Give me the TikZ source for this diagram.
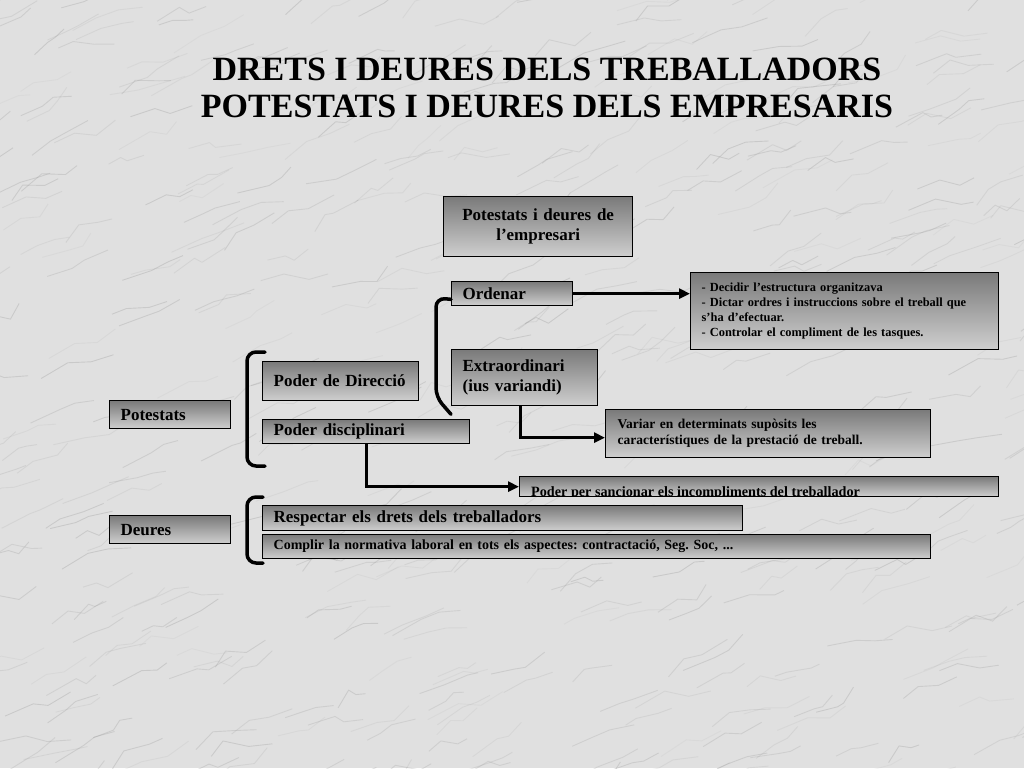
\documentclass[tikz,border=0pt]{standalone}
\usepackage{fontspec}
\setmainfont{Liberation Serif}
\frenchspacing
\usetikzlibrary{arrows.meta,calc}
\definecolor{marble}{HTML}{E0E0E0}
\definecolor{vein}{HTML}{959595}
\definecolor{boxtop}{HTML}{7A7A7A}
\definecolor{boxbot}{HTML}{CFCFCF}
\begin{document}
\begin{tikzpicture}[x=1pt,y=-1pt,
  box/.style={draw=black, line width=1.3pt, top color=boxtop, bottom color=boxbot,
    anchor=north west, inner ysep=0pt, align=left, text=black},
  fbig/.style={font=\fontsize{17}{20}\selectfont\bfseries},
  fmid/.style={font=\fontsize{13.5}{16}\selectfont\bfseries},
  fsmall/.style={font=\fontsize{12.4}{15}\selectfont\bfseries},
  fcom/.style={font=\fontsize{14}{16}\selectfont\bfseries},
  fsan/.style={font=\fontsize{14.2}{16}\selectfont\bfseries},
  conn/.style={line width=3pt, -{Triangle[length=11pt,width=10pt]}},
  brace/.style={line width=3.5pt, rounded corners=9pt, line cap=round},
  titlef/.style={font=\fontsize{34}{38}\selectfont\bfseries}]
\useasboundingbox (0,0) rectangle (1024,768);
\fill[marble] (0,0) rectangle (1024,768);
% marble texture
\pgfmathsetseed{42}
\begin{scope}
\clip (0,0) rectangle (1024,768);
\foreach \i in {1,...,520}{
  \pgfmathsetmacro\xa{rnd*1100-40}
  \pgfmathsetmacro\ya{rnd*820-20}
  \pgfmathsetmacro\dxa{10+rnd*22}
  \pgfmathsetmacro\dya{-4-rnd*14}
  \pgfmathsetmacro\dxb{6+rnd*20}
  \pgfmathsetmacro\dyb{rnd*16-10}
  \pgfmathsetmacro\dxc{8+rnd*18}
  \pgfmathsetmacro\dyc{-rnd*16}
  \pgfmathsetmacro\op{0.08+rnd*0.22}
  \draw[vein, opacity=\op, line width=0.9pt, line join=round]
    (\xa,\ya) -- ++(\dxa,\dya) -- ++(\dxb,\dyb) -- ++(\dxc,\dyc);
}
\end{scope}
% title
\node[titlef, anchor=base] (t1) at (547,81) {DRETS I DEURES DELS TREBALLADORS};
\node[titlef, anchor=base] (t2) at (547,117) {POTESTATS I DEURES DELS EMPRESARIS};
% boxes
\node[box, fbig, align=center, text width=189pt, inner xsep=0pt, minimum height=60pt] (top) at (443,196) {Potestats i deures de\\l’empresari};
\node[box, fbig, text width=99pt, inner xsep=11pt, minimum height=24pt] (ord) at (451,281) {Ordenar};
\node[box, fbig, text width=124pt, inner xsep=11pt, minimum height=56pt] (ext) at (451,349) {Extraordinari\\(ius variandi)};
\node[box, fsmall, text width=286pt, inner xsep=11pt, minimum height=77pt] (dec) at (690,272) {- Decidir l’estructura organitzava\\- Dictar ordres i instruccions sobre el treball que\\s’ha d’efectuar.\\- Controlar el compliment de les tasques.};
\node[box, fmid, text width=301pt, inner xsep=12pt, minimum height=48pt] (var) at (605,409) {Variar en determinats supòsits les\\característiques de la prestació de treball.};
\node[box, fbig, text width=134pt, inner xsep=11pt, minimum height=39pt] (dir) at (262,361) {Poder de Direcció};
\node[box, fbig, text width=185pt, inner xsep=11pt, minimum height=24pt] (dis) at (262,419) {Poder disciplinari};
\node[box, fbig, text width=99pt, inner xsep=11pt, minimum height=28pt] (pot) at (109,400) {Potestats};
\node[box, minimum width=479pt, minimum height=20pt, inner sep=0pt] (san) at (519,476) {};
\begin{scope}
\clip ($(san.north west)+(1,1)$) rectangle ($(san.south east)+(-1,-1)$);
\node[fsan, anchor=base west, inner sep=0pt] (santxt) at (531,496) {Poder per sancionar els incompliments del treballador};
\end{scope}
\node[box, fbig, text width=458pt, inner xsep=11pt, minimum height=25pt] (res) at (262,505) {Respectar els drets dels treballadors};
\node[box, fcom, text width=646pt, inner xsep=11pt, minimum height=24pt] (com) at (262,534) {Complir la normativa laboral en tots els aspectes: contractació, Seg. Soc, ...};
\node[box, fbig, text width=99pt, inner xsep=11pt, minimum height=28pt] (deu) at (109,515) {Deures};
% brackets
\coordinate (b1a) at (265,352);
\coordinate (b1b) at (265,466);
\draw[brace] (b1a) -- (247,352) -- (247,466) -- (b1b);
\coordinate (b2a) at (263,497);
\coordinate (b2b) at (263,563);
\draw[brace] (b2a) -- (247,497) -- (247,563) -- (b2b);
\draw[brace] ($(ord.south west)+(0,-7)$) -- (436,298) -- (436,397) -- ($(ext.south west)+(0,8)$);
% connectors
\draw[conn] (ord.east) -- (ord.east -| dec.west);
\draw[conn] ([xshift=-4pt]ext.south) |- ([yshift=-4pt]var.west);
\draw[conn] (dis.south) |- (san.west);
\end{tikzpicture}
\end{document}
